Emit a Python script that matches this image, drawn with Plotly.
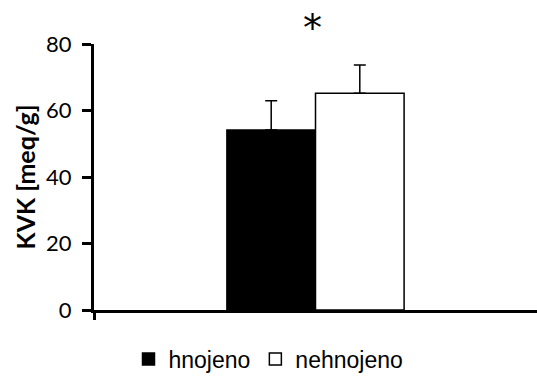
import plotly.graph_objects as go

# Cation exchange capacity (KVK) by treatment
series_names = ["hnojeno", "nehnojeno"]
kvk_means = [54.1, 65.2]
kvk_errors = [8.8, 8.5]
fill_colors = ["black", "white"]
y_ticks = [0, 20, 40, 60, 80]
y_max = 80
star_level = 84.8

fig = go.Figure()
for name, mean, err, color in zip(series_names, kvk_means, kvk_errors, fill_colors):
    fig.add_trace(go.Bar(
        x=[0], y=[mean], name=name,
        marker=dict(color=color, line=dict(color="black", width=1.5)),
        error_y=dict(type="data", array=[err], symmetric=False, arrayminus=[0],
                     color="black", thickness=1.5, width=6),
    ))

# significance marker above the pair of bars
fig.add_annotation(x=0, y=star_level / y_max, text="*", showarrow=False,
                   xref="x", yref="paper",
                   font=dict(family="DejaVu Sans", size=38, color="black"),
                   yanchor="middle", xshift=-3)

fig.update_layout(
    width=537, height=376,
    margin=dict(l=94, r=0, t=44, b=66, autoexpand=False),
    paper_bgcolor="white", plot_bgcolor="white",
    barmode="group", bargap=0.6, bargroupgap=0,
    showlegend=True,
    legend=dict(orientation="h", xref="container", yref="container",
                x=0.5, xanchor="center", y=0.045, yanchor="middle",
                font=dict(family="Liberation Sans", size=23, color="black"),
                itemwidth=30, traceorder="normal"),
    xaxis=dict(range=[-0.5, 0.5], showgrid=False, zeroline=False,
               showline=True, linecolor="black", linewidth=3,
               tickmode="array", tickvals=[-0.5], ticks="outside",
               ticklen=7, tickwidth=3, tickcolor="black", showticklabels=False),
    yaxis=dict(range=[0, y_max], tickvals=y_ticks, showgrid=False, zeroline=False,
               showline=True, linecolor="black", linewidth=3,
               ticks="outside", ticklen=9, tickwidth=3, tickcolor="black",
               ticklabelstandoff=6,
               tickfont=dict(family="Lato", size=22, color="black"),
               title=dict(text="<b>KVK [meq/g]</b>", standoff=4,
                          font=dict(family="Lato", size=25, color="black"))),
)

fig.write_html("out.html")
